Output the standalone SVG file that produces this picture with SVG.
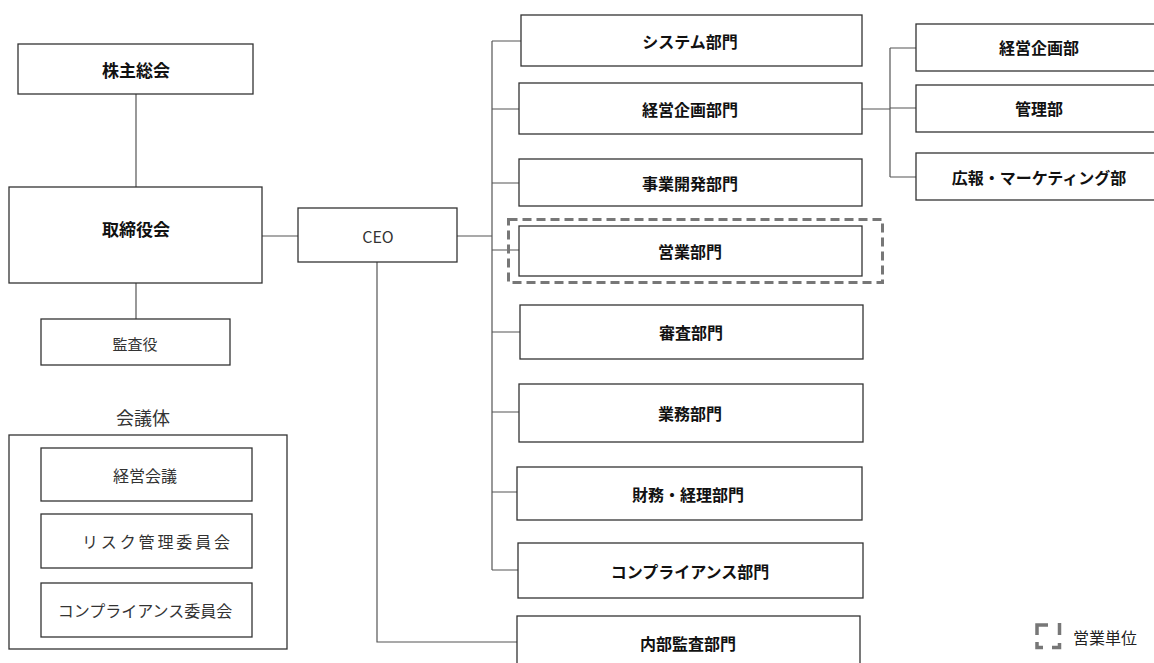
<svg xmlns="http://www.w3.org/2000/svg" width="1154" height="663" viewBox="0 0 1154 663">
<style>
.box{fill:#fff;stroke:#333;stroke-width:1.3}
.con{fill:none;stroke:#555;stroke-width:1.2}
.b{font-family:"Noto Sans CJK JP","Liberation Sans",sans-serif;font-weight:bold;fill:#111;text-anchor:middle;dominant-baseline:central}
.n{font-family:"Noto Sans CJK JP","Liberation Sans",sans-serif;fill:#333;text-anchor:middle;dominant-baseline:central}
.dash{fill:none;stroke:#777;stroke-width:3;stroke-dasharray:9,5}
</style>
<rect width="1154" height="663" fill="#fff"/>
<g id="connectors">
<path class="con" d="M136,94V187M136,283V319M262,236H298M457,236H492"/>
<path class="con" d="M492,41V570M492,41H521M492,109H519M492,183H519M492,250H519M492,332H520M492,412H519M492,492H517M492,570H518"/>
<path class="con" d="M377,262V642H517"/>
<path class="con" d="M862,109H890M890,48V177M890,48H916M890,108H916M890,177H916"/>
</g>
<g id="n-kabunushi"><rect class="box" x="18" y="44" width="235" height="50"/><text class="b" x="136" y="69" font-size="17">株主総会</text></g>
<g id="n-torishimari"><rect class="box" x="9" y="187" width="253" height="96"/><text class="b" x="136" y="228" font-size="17">取締役会</text></g>
<g id="n-kansa"><rect class="box" x="41" y="319" width="189" height="46"/><text class="n" x="135" y="343" font-size="15">監査役</text></g>
<g id="n-ceo"><rect class="box" x="298" y="208" width="159" height="54"/><text class="n" x="378" y="236" font-size="16" font-family="Liberation Sans,sans-serif">CEO</text></g>
<g id="n-kaigitai">
<text class="n" x="143" y="417" font-size="18">会議体</text>
<rect class="box" x="9" y="435" width="278" height="214"/>
<g id="n-keiei-kaigi"><rect class="box" x="41" y="448" width="211" height="53"/><text class="n" x="145" y="475" font-size="16">経営会議</text></g>
<g id="n-risk"><rect class="box" x="41" y="514" width="211" height="54"/><text class="n" x="156" y="541" font-size="16" textLength="148">リスク管理委員会</text></g>
<g id="n-comp-iinkai"><rect class="box" x="41" y="583" width="211" height="54"/><text class="n" x="145" y="610" font-size="16">コンプライアンス委員会</text></g>
</g>
<g id="n-system"><rect class="box" x="521" y="15" width="341" height="51"/><text class="b" x="690" y="41" font-size="16">システム部門</text></g>
<g id="n-keiei-bumon"><rect class="box" x="519" y="83" width="343" height="51"/><text class="b" x="690" y="109" font-size="16">経営企画部門</text></g>
<g id="n-jigyo"><rect class="box" x="519" y="159" width="343" height="47"/><text class="b" x="690" y="183" font-size="16">事業開発部門</text></g>
<g id="n-eigyo"><rect class="box" x="519" y="226" width="343" height="50"/><text class="b" x="690" y="251" font-size="16">営業部門</text></g>
<rect id="eigyo-unit" class="dash" x="508.5" y="219.5" width="374" height="63"/>
<g id="n-shinsa"><rect class="box" x="520" y="305" width="343" height="54"/><text class="b" x="691" y="332" font-size="16">審査部門</text></g>
<g id="n-gyomu"><rect class="box" x="519" y="384" width="344" height="58"/><text class="b" x="690" y="413" font-size="16">業務部門</text></g>
<g id="n-zaimu"><rect class="box" x="517" y="467" width="345" height="53"/><text class="b" x="688" y="494" font-size="16">財務・経理部門</text></g>
<g id="n-compliance"><rect class="box" x="518" y="543" width="345" height="55"/><text class="b" x="690" y="571" font-size="16">コンプライアンス部門</text></g>
<g id="n-naibu"><rect class="box" x="517" y="616" width="343" height="60"/><text class="b" x="688" y="643" font-size="16">内部監査部門</text></g>
<g id="n-keiei-bu"><rect class="box" x="916" y="24" width="250" height="47"/><text class="b" x="1039" y="47" font-size="16">経営企画部</text></g>
<g id="n-kanri"><rect class="box" x="916" y="85" width="250" height="47"/><text class="b" x="1039" y="108" font-size="16">管理部</text></g>
<g id="n-koho"><rect class="box" x="916" y="153" width="250" height="47"/><text class="b" x="1039" y="177" font-size="16">広報・マーケティング部</text></g>
<g id="legend">
<path d="M1037,635V625H1048M1059.5,623V635M1037,642V647.5H1043M1052,647.5H1059.5V643" fill="none" stroke="#777" stroke-width="3.5"/>
<text x="1073" y="637" font-size="16" fill="#222" font-family="Noto Sans CJK JP,sans-serif" dominant-baseline="central">営業単位</text>
</g>
</svg>
